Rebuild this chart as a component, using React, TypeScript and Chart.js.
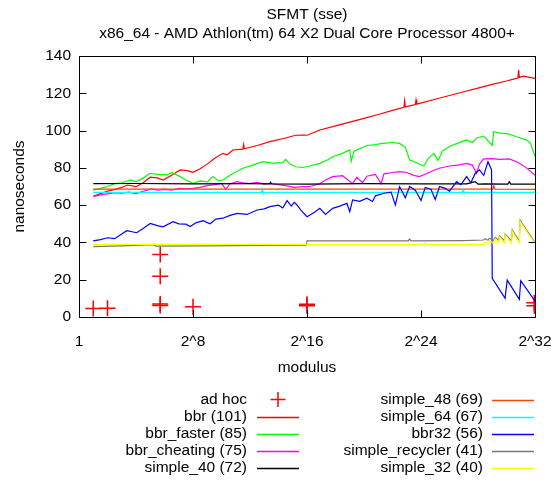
import React, { useEffect, useRef } from "react";
import { Chart, registerables } from "chart.js";

Chart.register(...registerables);

// ---------- text ----------
const titleLines = ["SFMT (sse)", "x86_64 - AMD Athlon(tm) 64 X2 Dual Core Processor 4800+"];
const xAxisTitle = "modulus";
const yAxisTitle = "nanoseconds";

// ---------- ticks ----------
const xTickExps = [0, 8, 16, 24, 32]; // log2(modulus)
const xTickLabels = ["1", "2^8", "2^16", "2^24", "2^32"];
const yTickValues = [0, 20, 40, 60, 80, 100, 120, 140];

// ---------- data: [log2(modulus), nanoseconds] ----------
const adHoc: number[][] = [
  [1, 4.5], [2, 4.7], [5.7, 33.5], [5.7, 21.8], [5.7, 6.2], [5.7, 7.0],
  [8, 5.5], [16, 6.0], [16, 6.8], [31.95, 6.0], [31.95, 7.6],
];
const bbr: number[][] = [
  [1, 64.8], [1.5, 66.2], [2, 67.5], [2.4, 68.2], [3, 69.5], [3.4, 70.8], [4, 69.9], [4.5, 72],
  [5, 75], [5.5, 74.6], [5.9, 73.5], [6.5, 76], [7.1, 78.9], [7.6, 78.5], [8, 77.6], [8.5, 79.5],
  [9, 82], [9.5, 85], [10.1, 87.8], [10.4, 87], [10.8, 89.6], [11.5, 90], [11.55, 92.5], [11.6, 90.2],
  [12.5, 92], [13.4, 94.1], [14.5, 96], [15.2, 97.5], [15.7, 97.6], [16, 97.5], [16.9, 100.3],
  [18, 102.5], [19, 104.5], [20, 106.5], [21, 108.6], [22, 110.8], [22.8, 112.5], [22.85, 116],
  [22.9, 112.7], [23.6, 114], [23.65, 116.5], [23.7, 114.2], [25, 116.8], [26, 118.8], [27, 120.8],
  [28, 122.8], [29, 124.8], [30, 126.6], [30.5, 127.6], [30.8, 128.2], [30.85, 132.5], [30.9, 128.5],
  [31.2, 129.2], [32, 128],
];
const bbrFaster: number[][] = [
  [1, 68.1], [1.5, 69], [2, 70], [2.5, 71.5], [3, 72], [3.6, 73.5], [4, 72.5], [4.5, 74.5], [5, 77.1],
  [5.5, 76.5], [6.2, 76.2], [6.5, 77.5], [7.1, 75.3], [7.5, 73.5], [8, 71.7], [8.5, 73], [9, 72.5],
  [9.4, 75.3], [9.8, 73], [10.1, 73.5], [10.8, 77], [11.5, 79.8], [12.2, 81.5], [12.9, 83.3],
  [13.6, 82.5], [14.3, 82.8], [14.5, 84.5], [14.8, 82], [15.2, 80.6], [15.7, 80.2], [16.2, 81],
  [16.9, 82.4], [17.5, 84.5], [17.8, 86], [18.4, 87.5], [19, 89.6], [19.1, 83.5], [19.3, 89],
  [20.2, 92], [20.8, 92.5], [21.3, 93.1], [22, 93.6], [22.5, 93.1], [22.9, 91], [23.2, 84.3],
  [23.6, 83], [24.2, 81], [24.5, 85], [24.9, 87.8], [25.2, 84], [25.5, 89], [26, 91.5], [26.5, 93],
  [27.2, 95], [27.6, 93.5], [27.9, 96], [28.4, 97], [29, 92], [29.1, 99.4], [29.6, 98.5], [30, 98.5],
  [30.4, 97.5], [30.7, 96.7], [31, 96], [31.4, 95], [31.7, 93], [32, 86],
];
const bbrCheating: number[][] = [
  [1, 64.5], [1.5, 65.5], [2, 66], [2.5, 66.7], [3, 66.5], [3.5, 67], [4, 66.2], [4.4, 67.2],
  [5.1, 68.7], [5.5, 68], [6, 68.5], [6.5, 68], [7, 69], [7.5, 68.8], [8, 69], [8.5, 69.5], [9, 70.5],
  [9.5, 71], [10, 71.7], [10.3, 68.5], [10.6, 71.5], [11.1, 72.6], [11.5, 72], [12, 71.5], [12.5, 72.2],
  [13, 71.3], [13.4, 71.7], [14, 71], [14.5, 70.5], [15.1, 69.5], [15.7, 69.9], [16.2, 70], [16.9, 71.5],
  [17.3, 73.5], [17.8, 75.3], [18.5, 75.8], [19.2, 71.5], [19.5, 75], [19.9, 72], [20.2, 75.5],
  [20.8, 76.5], [21.2, 71.5], [21.4, 76.8], [22, 77.5], [22.5, 78], [23, 77.5], [23.5, 76], [23.9, 75.3],
  [24.4, 77], [25, 79], [25.3, 79.8], [26, 81], [26.6, 81.5], [27.2, 82.4], [27.6, 81.5], [27.9, 77],
  [28.1, 82], [28.4, 84.8], [29, 85], [29.5, 84.5], [30.2, 84.8], [30.8, 83], [31.4, 80], [32, 76],
];
const simple40: number[][] = [
  [1, 71.5], [4, 71.6], [8, 71.4], [12, 71.5], [13.4, 71.4], [13.45, 72.3], [13.5, 71.4], [16, 71.3],
  [20, 71.5], [24, 71.4], [27.2, 71.4], [27.8, 72.6], [28, 71.3], [28.5, 71.4], [30.1, 71.3],
  [30.2, 72.6], [30.3, 71.3], [32, 71.3],
];
const simple48: number[][] = [
  [1, 68.6], [10, 68.6], [20, 68.6], [29.05, 68.6], [29.1, 70.5], [29.2, 68.6], [32, 68.5],
];
const simple64: number[][] = [
  [1, 66.8], [12.8, 66.8], [12.85, 68.3], [12.9, 66.8], [26.9, 66.8], [26.95, 68.3], [27, 66.8], [32, 66.8],
];
const bbr32: number[][] = [
  [1, 40.8], [1.5, 41.5], [2, 42.5], [2.5, 42], [3, 44.5], [3.35, 46.3], [4.05, 45.2], [4.5, 47.5],
  [5, 50.2], [5.5, 49], [5.9, 48.4], [6.6, 51.1], [7, 50], [7.5, 49.8], [7.8, 48.5], [8.2, 50.5],
  [8.7, 51.7], [9.2, 50], [9.6, 52.5], [10.1, 53], [10.6, 54.5], [11.1, 55.6], [11.8, 55], [12.5, 57.4],
  [13, 58], [13.4, 59.2], [14, 60], [14.3, 58.5], [14.6, 62.4], [14.9, 59.5], [15.1, 61.5], [15.3, 60.1],
  [15.6, 57], [16, 53.8], [16.5, 56], [16.9, 58.3], [17.3, 55], [17.8, 58.3], [18.3, 59.5], [18.8, 61],
  [19, 56.5], [19.2, 62.8], [19.7, 62], [20.2, 63.7], [20.6, 62], [20.8, 65], [21.4, 66.4], [21.9, 67],
  [22.2, 60], [22.5, 69.9], [22.9, 64], [23.2, 70], [23.6, 68], [24, 62.5], [24.3, 69.5], [24.7, 68.5],
  [25, 63], [25.3, 70], [25.7, 69], [26, 67.5], [26.5, 72.6], [26.8, 71], [27.2, 75.3], [27.5, 72],
  [27.8, 77], [28.1, 78.9], [28.4, 76], [28.7, 83.3], [28.95, 79], [29, 20.7], [29.9, 10], [30.05, 19.8],
  [30.9, 9.5], [31, 19.5], [32, 8.5],
];
const simpleRecycler: number[][] = [
  [1, 37.7], [3, 38.2], [5.2, 38.8], [5.4, 38], [9, 38.1], [12.5, 38.4], [15.95, 38.5], [16, 40.8],
  [23.1, 40.8], [23.2, 41.8], [23.3, 40.8], [27, 41], [28.4, 41.3], [28.5, 42], [28.7, 41.2],
  [28.8, 42.3], [29.1, 41.2], [29.2, 42.7], [29.45, 41.2], [29.5, 43.6], [29.85, 41], [29.9, 44.5],
  [30.35, 40.8], [30.4, 46.7], [30.9, 40.6], [30.95, 52], [31.95, 40.5],
];
const simple32: number[][] = [
  [1, 39], [10, 39], [24.2, 39], [24.3, 39.8], [24.4, 39], [28.4, 39], [28.5, 40.5], [28.7, 39.3],
  [28.8, 41], [29.1, 39.3], [29.2, 42], [29.45, 39.5], [29.5, 43], [29.85, 39.5], [29.9, 44],
  [30.35, 39.5], [30.4, 46], [30.9, 39.8], [30.95, 51.3], [31.95, 39.8],
];

const seriesLabels = [
  "ad hoc", "bbr (101)", "bbr_faster (85)", "bbr_cheating (75)", "simple_40 (72)",
  "simple_48 (69)", "simple_64 (67)", "bbr32 (56)", "simple_recycler (41)", "simple_32 (40)",
];
const seriesData = [adHoc, bbr, bbrFaster, bbrCheating, simple40, simple48, simple64, bbr32, simpleRecycler, simple32];
const seriesColors = [
  "#ff0000", "#ff0000", "#00ff00", "#ff00ff", "#000000",
  "#ff4500", "#00ffff", "#0000ff", "#777777", "#ffff00",
];

const FONT = "Liberation Sans, Arial, Helvetica, sans-serif";
const FS = 15.5;

const gnuplotPlugin = {
  id: "gnuplotDecor",
  afterDatasetsDraw(chart: any) {
    const { ctx, chartArea } = chart;
    const xs = chart.scales.x;
    const ys = chart.scales.y;
    const L = Math.round(chartArea.left) + 0.5;
    const R = Math.round(chartArea.right) + 0.5;
    const T = Math.round(chartArea.top) + 0.5;
    const B = Math.round(chartArea.bottom) + 0.5;
    const tl = 7;
    ctx.save();
    ctx.strokeStyle = "#000";
    ctx.lineWidth = 1;
    ctx.beginPath();
    ctx.rect(L, T, R - L, B - T);
    for (const v of yTickValues) {
      const p = Math.round(ys.getPixelForValue(v)) + 0.5;
      ctx.moveTo(L, p); ctx.lineTo(L + tl, p);
      ctx.moveTo(R, p); ctx.lineTo(R - tl, p);
    }
    for (const e of xTickExps) {
      const p = Math.round(xs.getPixelForValue(e)) + 0.5;
      ctx.moveTo(p, B); ctx.lineTo(p, B - tl);
      ctx.moveTo(p, T); ctx.lineTo(p, T + tl);
    }
    ctx.stroke();
    ctx.restore();
  },
  afterDraw(chart: any) {
    const { ctx, chartArea } = chart;
    const cx = (chartArea.left + chartArea.right) / 2;
    ctx.save();
    ctx.fillStyle = "#000";
    ctx.font = `${FS}px ${FONT}`;
    ctx.textAlign = "center";
    ctx.textBaseline = "middle";
    ctx.fillText(titleLines[0], cx, 15);
    ctx.fillText(titleLines[1], cx, 34);

    // legend
    const rowY0 = 399.5;
    const rowStep = 17;
    const cols = [
      { textRight: 247, s0: 257, s1: 299 },
      { textRight: 483, s0: 492, s1: 534 },
    ];
    ctx.textAlign = "right";
    chart.data.datasets.forEach((ds: any, i: number) => {
      const col = cols[i < 5 ? 0 : 1];
      const y = rowY0 + (i % 5) * rowStep;
      ctx.fillStyle = "#000";
      ctx.fillText(ds.label, col.textRight, y);
      ctx.strokeStyle = ds.borderColor;
      ctx.lineWidth = 1.5;
      ctx.beginPath();
      if (ds.showLine === false) {
        const mx = (col.s0 + col.s1) / 2;
        ctx.moveTo(mx - 7.5, y); ctx.lineTo(mx + 7.5, y);
        ctx.moveTo(mx, y - 7.5); ctx.lineTo(mx, y + 7.5);
      } else {
        ctx.moveTo(col.s0, Math.round(y) + 0.5);
        ctx.lineTo(col.s1, Math.round(y) + 0.5);
      }
      ctx.stroke();
    });
    ctx.restore();
  },
};

export default function App() {
  const ref = useRef<HTMLCanvasElement | null>(null);
  useEffect(() => {
    if (!ref.current) return;
    const datasets = seriesData.map((d, i) => {
      const isPts = i === 0;
      return {
        label: seriesLabels[i],
        data: d.map(([e, v]) => ({ x: e, y: v })),
        borderColor: seriesColors[i],
        backgroundColor: seriesColors[i],
        borderWidth: isPts ? 1.5 : 1.2,
        showLine: !isPts,
        pointStyle: isPts ? "cross" : "circle",
        pointRadius: isPts ? 8 : 0,
        pointBorderWidth: 1.5,
        tension: 0,
        order: seriesData.length - i,
      };
    });
    const chart = new Chart(ref.current, {
      type: "line",
      data: { datasets: datasets as any },
      options: {
        animation: false,
        responsive: false,
        devicePixelRatio: 1,
        layout: { padding: { left: 0, top: 56, right: 20, bottom: 106 } },
        plugins: { legend: { display: false }, tooltip: { enabled: false }, title: { display: false } },
        scales: {
          x: {
            type: "linear",
            min: 0,
            max: 32,
            grid: { display: false, drawTicks: false },
            border: { display: false },
            afterBuildTicks: (s: any) => { s.ticks = xTickExps.map((v) => ({ value: v })); },
            afterFit: (s: any) => { s.height = 60; s.paddingLeft = 0; s.paddingRight = 0; },
            ticks: {
              padding: 15,
              color: "#000",
              font: { family: FONT, size: FS },
              maxRotation: 0,
              autoSkip: false,
              callback: (v: any) => {
                const k = xTickExps.indexOf(Number(v));
                return k >= 0 ? xTickLabels[k] : "";
              },
            },
            title: {
              display: true,
              text: xAxisTitle,
              color: "#000",
              font: { family: FONT, size: FS },
              padding: { top: 0, bottom: 0 },
            },
          },
          y: {
            type: "linear",
            min: 0,
            max: 140,
            grid: { display: false, drawTicks: false },
            border: { display: false },
            afterBuildTicks: (s: any) => { s.ticks = yTickValues.map((v) => ({ value: v })); },
            afterFit: (s: any) => { s.width = 79; s.paddingTop = 0; s.paddingBottom = 0; },
            ticks: {
              padding: 8,
              color: "#000",
              font: { family: FONT, size: FS },
            },
            title: {
              display: true,
              text: yAxisTitle,
              color: "#000",
              font: { family: FONT, size: FS },
              padding: { top: 10, bottom: 0 },
            },
          },
        },
      },
      plugins: [gnuplotPlugin],
    });
    return () => chart.destroy();
  }, []);
  return (
    <div style={{ position: "absolute", left: 0, top: 0, width: 555, height: 483, background: "#fff" }}>
      <canvas ref={ref} width={555} height={483} />
    </div>
  );
}
